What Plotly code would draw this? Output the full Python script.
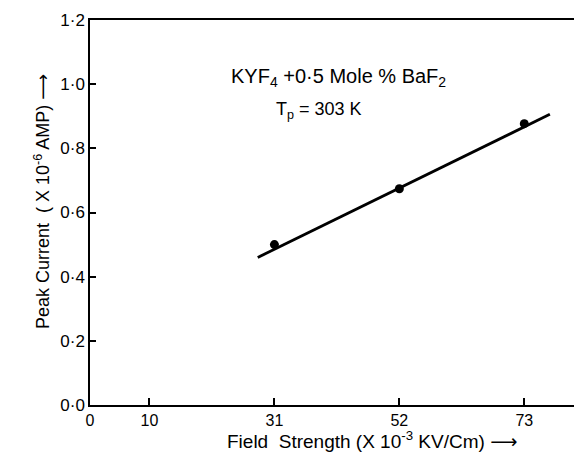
import plotly.graph_objects as go

# data
field_strength = [31, 52, 73]
peak_current = [0.50, 0.674, 0.877]
fit_x = [28.2, 77.3]
fit_y = [0.46, 0.906]
x_ticks = [0, 10, 31, 52, 73]
y_ticks = [0.0, 0.2, 0.4, 0.6, 0.8, 1.0, 1.2]
y_tick_text = ["0·0", "0·2", "0·4", "0·6", "0·8", "1·0", "1·2"]

FONT = "Liberation Sans, Arial, DejaVu Sans, sans-serif"

fig = go.Figure()
fig.add_trace(go.Scatter(x=fit_x, y=fit_y, mode="lines",
                         line=dict(color="black", width=2.8), showlegend=False))
fig.add_trace(go.Scatter(x=field_strength, y=peak_current, mode="markers",
                         marker=dict(color="black", size=9), showlegend=False))

fig.update_layout(
    width=574, height=457,
    margin=dict(l=82, r=0, t=12, b=60),
    plot_bgcolor="white", paper_bgcolor="white",
    font=dict(family=FONT, color="black", size=17),
    xaxis=dict(range=[0, 82.7], tickvals=x_ticks, ticktext=[str(v) for v in x_ticks],
               ticks="inside", ticklen=7, tickwidth=1.5, tickcolor="black",
               showline=True, linecolor="black", linewidth=1.5, mirror=True,
               showgrid=False, zeroline=False, tickfont=dict(size=16)),
    yaxis=dict(range=[0, 1.2], tickvals=y_ticks, ticktext=y_tick_text,
               ticks="inside", ticklen=6, tickwidth=1.5, tickcolor="black",
               showline=True, linecolor="black", linewidth=1.5,
               showgrid=False, zeroline=False, tickfont=dict(size=17)),
)

fig.add_annotation(text="KYF<sub>4</sub> +0·5 Mole % BaF<sub>2</sub>", xref="paper", yref="paper",
                   x=0.505, y=0.888, showarrow=False, font=dict(size=20))
fig.add_annotation(text="T<sub>p</sub> = 303 K", xref="paper", yref="paper",
                   x=0.466, y=0.80, showarrow=False, font=dict(size=18))
fig.add_annotation(text="Field  Strength (X 10<sup>-3</sup> KV/Cm) ⟶", xref="paper", yref="paper",
                   x=0.573, y=-0.128, showarrow=False, font=dict(size=19))
fig.add_annotation(text="Peak Current  ( X 10<sup>-6</sup> AMP) ⟶", xref="paper", yref="paper",
                   x=-0.125, y=0.527, showarrow=False, textangle=-90, font=dict(size=18))

fig.write_html("out.html")
